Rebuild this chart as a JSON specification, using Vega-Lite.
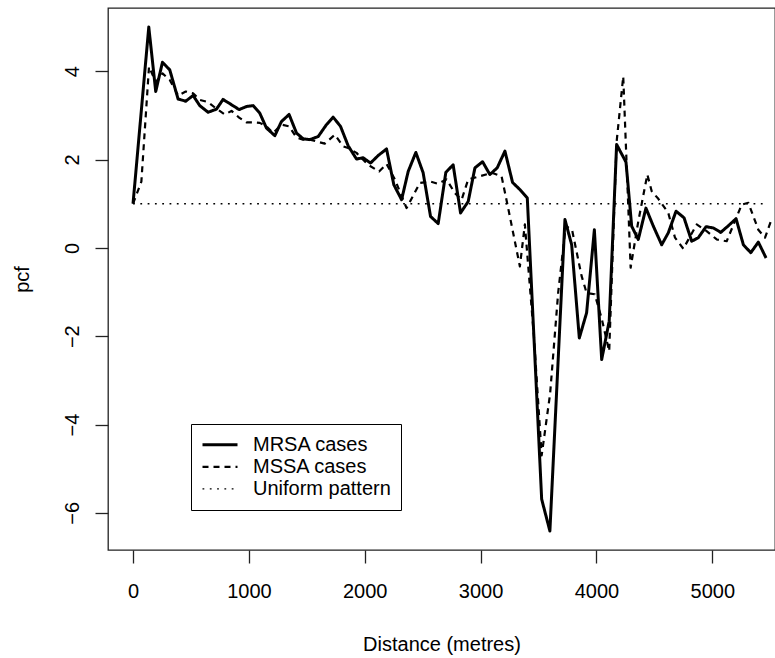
{
  "$schema": "https://vega.github.io/schema/vega-lite/v6.json",
  "width": 667,
  "height": 542,
  "autosize": {"type": "none"},
  "padding": {"left": 108, "top": 8, "right": 0, "bottom": 108},
  "background": "white",
  "config": {
    "font": "Liberation Sans",
    "view": {"stroke": "#222222", "strokeWidth": 1.3},
    "axis": {"grid": false, "domain": false, "labelFont": "Liberation Sans", "titleFont": "Liberation Sans", "labelColor": "black", "titleColor": "black", "labelFontSize": 20, "titleFontSize": 20, "titleFontWeight": "normal", "tickColor": "#222222", "tickWidth": 1.3, "tickSize": 13, "labelFlush": false, "labelOverlap": false}
  },
  "datasets": {
    "pcf": [
      {"d": 0, "v": 1.0, "s": "MRSA cases"},
      {"d": 136, "v": 5.0, "s": "MRSA cases"},
      {"d": 196, "v": 3.54, "s": "MRSA cases"},
      {"d": 254, "v": 4.2, "s": "MRSA cases"},
      {"d": 317, "v": 4.03, "s": "MRSA cases"},
      {"d": 389, "v": 3.37, "s": "MRSA cases"},
      {"d": 455, "v": 3.32, "s": "MRSA cases"},
      {"d": 518, "v": 3.45, "s": "MRSA cases"},
      {"d": 576, "v": 3.22, "s": "MRSA cases"},
      {"d": 648, "v": 3.07, "s": "MRSA cases"},
      {"d": 720, "v": 3.14, "s": "MRSA cases"},
      {"d": 777, "v": 3.36, "s": "MRSA cases"},
      {"d": 850, "v": 3.24, "s": "MRSA cases"},
      {"d": 916, "v": 3.13, "s": "MRSA cases"},
      {"d": 979, "v": 3.2, "s": "MRSA cases"},
      {"d": 1036, "v": 3.22, "s": "MRSA cases"},
      {"d": 1094, "v": 3.05, "s": "MRSA cases"},
      {"d": 1152, "v": 2.71, "s": "MRSA cases"},
      {"d": 1224, "v": 2.54, "s": "MRSA cases"},
      {"d": 1281, "v": 2.86, "s": "MRSA cases"},
      {"d": 1347, "v": 3.02, "s": "MRSA cases"},
      {"d": 1411, "v": 2.6, "s": "MRSA cases"},
      {"d": 1468, "v": 2.47, "s": "MRSA cases"},
      {"d": 1526, "v": 2.45, "s": "MRSA cases"},
      {"d": 1598, "v": 2.52, "s": "MRSA cases"},
      {"d": 1670, "v": 2.79, "s": "MRSA cases"},
      {"d": 1727, "v": 2.96, "s": "MRSA cases"},
      {"d": 1791, "v": 2.75, "s": "MRSA cases"},
      {"d": 1857, "v": 2.31, "s": "MRSA cases"},
      {"d": 1929, "v": 2.01, "s": "MRSA cases"},
      {"d": 1986, "v": 2.04, "s": "MRSA cases"},
      {"d": 2050, "v": 1.92, "s": "MRSA cases"},
      {"d": 2116, "v": 2.09, "s": "MRSA cases"},
      {"d": 2188, "v": 2.24, "s": "MRSA cases"},
      {"d": 2251, "v": 1.43, "s": "MRSA cases"},
      {"d": 2318, "v": 1.09, "s": "MRSA cases"},
      {"d": 2375, "v": 1.73, "s": "MRSA cases"},
      {"d": 2441, "v": 2.16, "s": "MRSA cases"},
      {"d": 2504, "v": 1.7, "s": "MRSA cases"},
      {"d": 2568, "v": 0.71, "s": "MRSA cases"},
      {"d": 2634, "v": 0.55, "s": "MRSA cases"},
      {"d": 2700, "v": 1.71, "s": "MRSA cases"},
      {"d": 2763, "v": 1.88, "s": "MRSA cases"},
      {"d": 2827, "v": 0.79, "s": "MRSA cases"},
      {"d": 2893, "v": 1.05, "s": "MRSA cases"},
      {"d": 2951, "v": 1.81, "s": "MRSA cases"},
      {"d": 3017, "v": 1.95, "s": "MRSA cases"},
      {"d": 3080, "v": 1.66, "s": "MRSA cases"},
      {"d": 3143, "v": 1.81, "s": "MRSA cases"},
      {"d": 3210, "v": 2.19, "s": "MRSA cases"},
      {"d": 3276, "v": 1.48, "s": "MRSA cases"},
      {"d": 3339, "v": 1.32, "s": "MRSA cases"},
      {"d": 3403, "v": 1.13, "s": "MRSA cases"},
      {"d": 3527, "v": -5.69, "s": "MRSA cases"},
      {"d": 3598, "v": -6.41, "s": "MRSA cases"},
      {"d": 3728, "v": 0.64, "s": "MRSA cases"},
      {"d": 3786, "v": 0.07, "s": "MRSA cases"},
      {"d": 3852, "v": -2.04, "s": "MRSA cases"},
      {"d": 3915, "v": -1.47, "s": "MRSA cases"},
      {"d": 3982, "v": 0.41, "s": "MRSA cases"},
      {"d": 4045, "v": -2.53, "s": "MRSA cases"},
      {"d": 4110, "v": -1.66, "s": "MRSA cases"},
      {"d": 4174, "v": 2.34, "s": "MRSA cases"},
      {"d": 4255, "v": 1.94, "s": "MRSA cases"},
      {"d": 4304, "v": 0.49, "s": "MRSA cases"},
      {"d": 4361, "v": 0.19, "s": "MRSA cases"},
      {"d": 4427, "v": 0.9, "s": "MRSA cases"},
      {"d": 4491, "v": 0.49, "s": "MRSA cases"},
      {"d": 4563, "v": 0.07, "s": "MRSA cases"},
      {"d": 4620, "v": 0.34, "s": "MRSA cases"},
      {"d": 4687, "v": 0.83, "s": "MRSA cases"},
      {"d": 4756, "v": 0.68, "s": "MRSA cases"},
      {"d": 4822, "v": 0.15, "s": "MRSA cases"},
      {"d": 4879, "v": 0.23, "s": "MRSA cases"},
      {"d": 4946, "v": 0.48, "s": "MRSA cases"},
      {"d": 5009, "v": 0.45, "s": "MRSA cases"},
      {"d": 5073, "v": 0.35, "s": "MRSA cases"},
      {"d": 5138, "v": 0.5, "s": "MRSA cases"},
      {"d": 5205, "v": 0.66, "s": "MRSA cases"},
      {"d": 5268, "v": 0.07, "s": "MRSA cases"},
      {"d": 5332, "v": -0.11, "s": "MRSA cases"},
      {"d": 5397, "v": 0.13, "s": "MRSA cases"},
      {"d": 5464, "v": -0.23, "s": "MRSA cases"},

      {"d": 0, "v": 1.0, "s": "MSSA cases"},
      {"d": 72, "v": 1.5, "s": "MSSA cases"},
      {"d": 138, "v": 4.1, "s": "MSSA cases"},
      {"d": 196, "v": 3.75, "s": "MSSA cases"},
      {"d": 254, "v": 3.95, "s": "MSSA cases"},
      {"d": 317, "v": 3.8, "s": "MSSA cases"},
      {"d": 389, "v": 3.45, "s": "MSSA cases"},
      {"d": 455, "v": 3.54, "s": "MSSA cases"},
      {"d": 518, "v": 3.5, "s": "MSSA cases"},
      {"d": 576, "v": 3.35, "s": "MSSA cases"},
      {"d": 648, "v": 3.3, "s": "MSSA cases"},
      {"d": 720, "v": 3.15, "s": "MSSA cases"},
      {"d": 792, "v": 3.02, "s": "MSSA cases"},
      {"d": 850, "v": 3.1, "s": "MSSA cases"},
      {"d": 916, "v": 2.95, "s": "MSSA cases"},
      {"d": 979, "v": 2.84, "s": "MSSA cases"},
      {"d": 1036, "v": 2.84, "s": "MSSA cases"},
      {"d": 1094, "v": 2.83, "s": "MSSA cases"},
      {"d": 1152, "v": 2.75, "s": "MSSA cases"},
      {"d": 1209, "v": 2.6, "s": "MSSA cases"},
      {"d": 1281, "v": 2.79, "s": "MSSA cases"},
      {"d": 1347, "v": 2.75, "s": "MSSA cases"},
      {"d": 1411, "v": 2.5, "s": "MSSA cases"},
      {"d": 1468, "v": 2.45, "s": "MSSA cases"},
      {"d": 1526, "v": 2.45, "s": "MSSA cases"},
      {"d": 1598, "v": 2.4, "s": "MSSA cases"},
      {"d": 1655, "v": 2.36, "s": "MSSA cases"},
      {"d": 1742, "v": 2.56, "s": "MSSA cases"},
      {"d": 1813, "v": 2.3, "s": "MSSA cases"},
      {"d": 1857, "v": 2.26, "s": "MSSA cases"},
      {"d": 1929, "v": 2.15, "s": "MSSA cases"},
      {"d": 2029, "v": 1.88, "s": "MSSA cases"},
      {"d": 2124, "v": 1.73, "s": "MSSA cases"},
      {"d": 2188, "v": 1.9, "s": "MSSA cases"},
      {"d": 2260, "v": 1.55, "s": "MSSA cases"},
      {"d": 2361, "v": 0.9, "s": "MSSA cases"},
      {"d": 2476, "v": 1.47, "s": "MSSA cases"},
      {"d": 2568, "v": 1.5, "s": "MSSA cases"},
      {"d": 2634, "v": 1.45, "s": "MSSA cases"},
      {"d": 2706, "v": 1.55, "s": "MSSA cases"},
      {"d": 2778, "v": 1.24, "s": "MSSA cases"},
      {"d": 2836, "v": 1.09, "s": "MSSA cases"},
      {"d": 2893, "v": 1.55, "s": "MSSA cases"},
      {"d": 2994, "v": 1.62, "s": "MSSA cases"},
      {"d": 3095, "v": 1.7, "s": "MSSA cases"},
      {"d": 3181, "v": 1.62, "s": "MSSA cases"},
      {"d": 3238, "v": 0.9, "s": "MSSA cases"},
      {"d": 3339, "v": -0.42, "s": "MSSA cases"},
      {"d": 3382, "v": 0.53, "s": "MSSA cases"},
      {"d": 3460, "v": -2.0, "s": "MSSA cases"},
      {"d": 3527, "v": -4.7, "s": "MSSA cases"},
      {"d": 3600, "v": -3.3, "s": "MSSA cases"},
      {"d": 3670, "v": -1.0, "s": "MSSA cases"},
      {"d": 3735, "v": 0.5, "s": "MSSA cases"},
      {"d": 3790, "v": 0.4, "s": "MSSA cases"},
      {"d": 3872, "v": -0.64, "s": "MSSA cases"},
      {"d": 3915, "v": -1.02, "s": "MSSA cases"},
      {"d": 3985, "v": -1.05, "s": "MSSA cases"},
      {"d": 4045, "v": -1.6, "s": "MSSA cases"},
      {"d": 4110, "v": -2.34, "s": "MSSA cases"},
      {"d": 4174, "v": 2.4, "s": "MSSA cases"},
      {"d": 4231, "v": 3.88, "s": "MSSA cases"},
      {"d": 4295, "v": -0.45, "s": "MSSA cases"},
      {"d": 4361, "v": 0.6, "s": "MSSA cases"},
      {"d": 4439, "v": 1.66, "s": "MSSA cases"},
      {"d": 4477, "v": 1.28, "s": "MSSA cases"},
      {"d": 4534, "v": 1.11, "s": "MSSA cases"},
      {"d": 4620, "v": 0.79, "s": "MSSA cases"},
      {"d": 4678, "v": 0.23, "s": "MSSA cases"},
      {"d": 4750, "v": -0.02, "s": "MSSA cases"},
      {"d": 4865, "v": 0.53, "s": "MSSA cases"},
      {"d": 4951, "v": 0.38, "s": "MSSA cases"},
      {"d": 5038, "v": 0.19, "s": "MSSA cases"},
      {"d": 5124, "v": 0.15, "s": "MSSA cases"},
      {"d": 5254, "v": 0.98, "s": "MSSA cases"},
      {"d": 5311, "v": 1.02, "s": "MSSA cases"},
      {"d": 5397, "v": 0.41, "s": "MSSA cases"},
      {"d": 5455, "v": 0.23, "s": "MSSA cases"},
      {"d": 5505, "v": 0.6, "s": "MSSA cases"},

      {"d": 0, "v": 1.0, "s": "Uniform pattern"},
      {"d": 5475, "v": 1.0, "s": "Uniform pattern"}
    ]
  },
  "data": {"name": "pcf"},
  "mark": {"type": "line", "color": "black", "clip": true, "strokeCap": "butt", "strokeJoin": "round"},
  "encoding": {
    "x": {
      "field": "d", "type": "quantitative",
      "scale": {"domain": [-216, 5541], "nice": false, "zero": false},
      "axis": {"values": [0, 1000, 2000, 3000, 4000, 5000], "format": "d", "title": "Distance (metres)", "labelPadding": 18, "titlePadding": 33}
    },
    "y": {
      "field": "v", "type": "quantitative",
      "scale": {"domain": [-6.84, 5.43], "nice": false, "zero": false},
      "axis": {"values": [-6, -4, -2, 0, 2, 4], "title": "pcf", "labelAngle": 270, "labelAlign": "center", "labelBaseline": "alphabetic", "labelPadding": 17, "titlePadding": 30}
    },
    "strokeDash": {
      "field": "s", "type": "nominal",
      "scale": {"domain": ["MRSA cases", "MSSA cases", "Uniform pattern"], "range": [[1, 0], [6, 5], [1.8, 5.5]]},
      "legend": {"title": null, "orient": "none", "legendX": 83, "legendY": 416, "direction": "vertical", "symbolType": "stroke", "symbolSize": 1225, "symbolStrokeColor": "black", "labelFontSize": 20, "labelFont": "Liberation Sans", "labelColor": "black", "labelOffset": 14, "clipHeight": 21.7, "rowPadding": 0, "padding": 10, "strokeColor": "black", "fillColor": "white", "cornerRadius": 0}
    },
    "strokeWidth": {
      "field": "s", "type": "nominal",
      "scale": {"domain": ["MRSA cases", "MSSA cases", "Uniform pattern"], "range": [3, 1.4, 1.8]},
      "legend": {"title": null, "orient": "none", "legendX": 83, "legendY": 416, "direction": "vertical", "symbolType": "stroke", "symbolSize": 1225, "symbolStrokeColor": "black", "labelFontSize": 20, "labelFont": "Liberation Sans", "labelColor": "black", "labelOffset": 14, "clipHeight": 21.7, "rowPadding": 0, "padding": 10, "strokeColor": "black", "fillColor": "white", "cornerRadius": 0}
    }
  }
}
